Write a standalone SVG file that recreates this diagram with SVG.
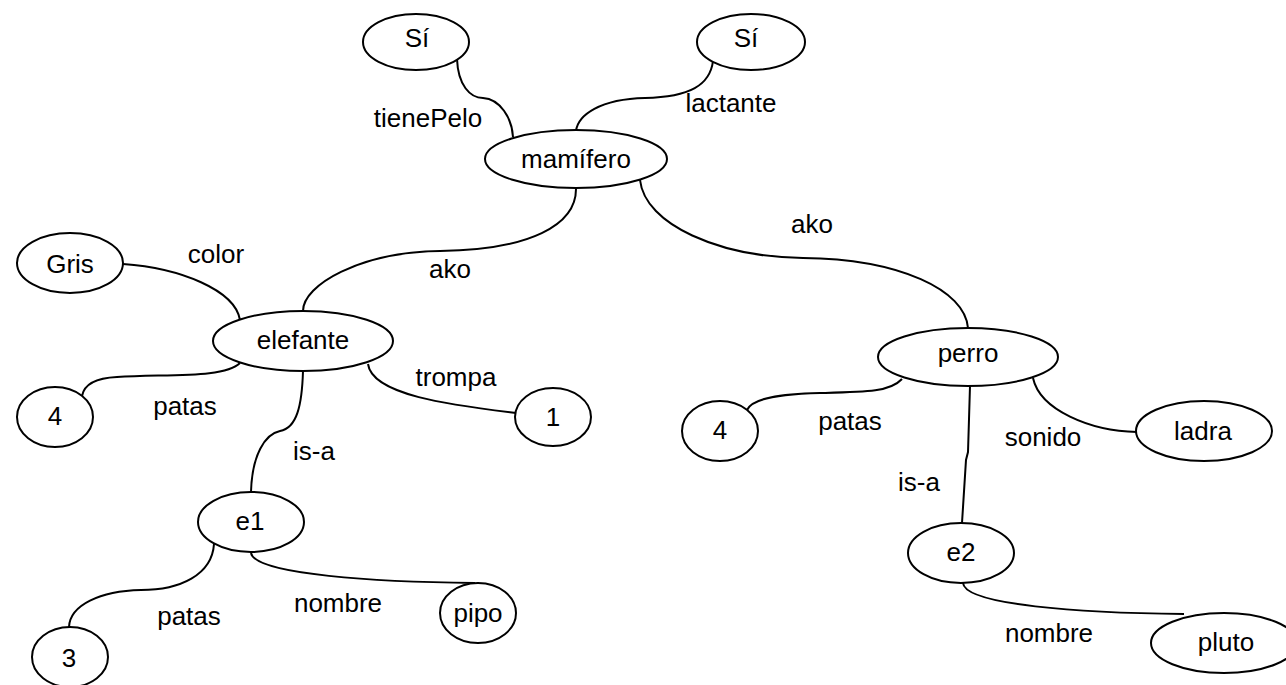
<svg xmlns="http://www.w3.org/2000/svg" width="1286" height="685" viewBox="0 0 1286 685">
<style>
.n ellipse{fill:#fff;stroke:#000;stroke-width:2}
text{font-family:"Liberation Sans",Arial,sans-serif;font-size:26px;fill:#000;text-anchor:middle}
.c path{fill:none;stroke:#000;stroke-width:2}
</style>
<rect width="1286" height="685" fill="#fff"/>
<g class="c" id="connectors">
<path d="M457,59 C458,85 470,98 483,98 C500,99 512,118 513,137"/>
<path d="M713,61 C710,85 690,97 645,98 C600,99 578,115 576,131"/>
<path d="M576,189 C576,225 530,250 440,251 C360,252 303,285 303,311"/>
<path d="M640,180 C645,225 720,257 803,258 C900,259 965,290 968,328"/>
<path d="M123,264 C180,268 235,290 240,320"/>
<path d="M240,363 C225,378 170,374 117,377 C95,378 84,385 82,396"/>
<path d="M368,364 C372,395 450,405 516,413"/>
<path d="M303,371 C302,405 297,428 280,431 C265,434 252,455 251,492"/>
<path d="M214,544 C212,575 180,590 141,590 C100,591 70,605 69,627"/>
<path d="M251,553 C255,575 380,582 475,583"/>
<path d="M902,379 C890,392 866,392 820,393 C780,394 752,398 747,410"/>
<path d="M970,386 L968,452 Q967,456 966,460 L962,523"/>
<path d="M1033,378 C1040,410 1090,431 1137,432"/>
<path d="M963,583 C965,605 1080,613 1184,614"/>
</g>
<g class="n" id="si1"><ellipse cx="416" cy="42" rx="53" ry="28"/><text x="417" y="47">Sí</text></g>
<g class="n" id="si2"><ellipse cx="751" cy="42" rx="54" ry="28"/><text x="746" y="47">Sí</text></g>
<g class="n" id="mamifero"><ellipse cx="576" cy="159" rx="91" ry="29"/><text x="576" y="168">mamífero</text></g>
<g class="n" id="gris"><ellipse cx="70" cy="263" rx="53" ry="30"/><text x="70" y="273">Gris</text></g>
<g class="n" id="elefante"><ellipse cx="303" cy="341" rx="90" ry="30"/><text x="303" y="349">elefante</text></g>
<g class="n" id="cuatro1"><ellipse cx="55" cy="417" rx="38" ry="30"/><text x="55" y="425">4</text></g>
<g class="n" id="uno"><ellipse cx="553" cy="417" rx="38" ry="29"/><text x="553" y="426">1</text></g>
<g class="n" id="e1"><ellipse cx="251" cy="522" rx="53" ry="30"/><text x="250" y="530">e1</text></g>
<g class="n" id="tres"><ellipse cx="70" cy="657" rx="38" ry="30"/><text x="69" y="667">3</text></g>
<g class="n" id="pipo"><ellipse cx="478" cy="613" rx="38" ry="30"/><text x="478" y="622">pipo</text></g>
<g class="n" id="perro"><ellipse cx="968" cy="357" rx="90" ry="29"/><text x="968" y="362">perro</text></g>
<g class="n" id="cuatro2"><ellipse cx="720" cy="431" rx="38" ry="30"/><text x="720" y="439">4</text></g>
<g class="n" id="ladra"><ellipse cx="1204" cy="431" rx="68" ry="30"/><text x="1203" y="440">ladra</text></g>
<g class="n" id="e2"><ellipse cx="961" cy="553" rx="53" ry="30"/><text x="961" y="561">e2</text></g>
<g class="n" id="pluto"><ellipse cx="1224" cy="643" rx="73" ry="30"/><text x="1226" y="651">pluto</text></g>
<g id="labels">
<text x="428" y="127">tienePelo</text>
<text x="731" y="112">lactante</text>
<text x="216" y="263">color</text>
<text x="450" y="278">ako</text>
<text x="812" y="233">ako</text>
<text x="456" y="386">trompa</text>
<text x="185" y="415">patas</text>
<text x="314" y="460">is-a</text>
<text x="189" y="625">patas</text>
<text x="338" y="612">nombre</text>
<text x="850" y="430">patas</text>
<text x="1043" y="446">sonido</text>
<text x="919" y="491">is-a</text>
<text x="1049" y="642">nombre</text>
</g>
</svg>
